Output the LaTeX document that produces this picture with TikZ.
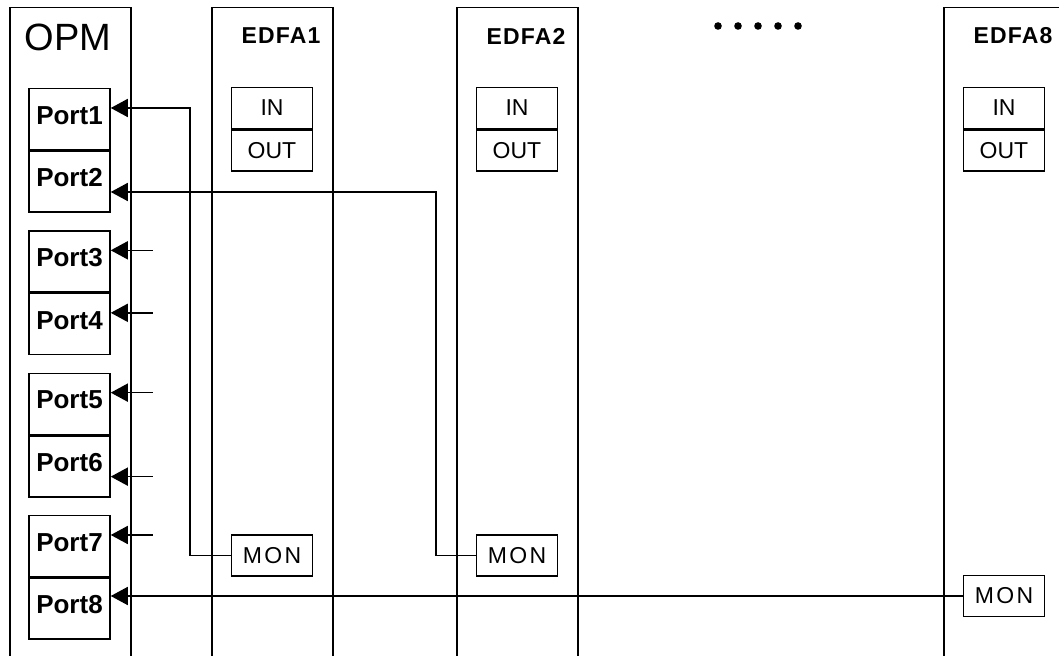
\documentclass[tikz,border=0pt]{standalone}
\usepackage{fontspec}
\setmainfont{Liberation Sans}
\usepackage{tikz}
\usetikzlibrary{arrows.meta,positioning,calc}

\tikzset{
  unitbox/.style={draw, anchor=north west, minimum width=60.5pt, minimum height=332pt, inner sep=0pt},
  portbox/.style={draw, minimum width=40.5pt, minimum height=30.5pt, inner sep=0pt, text depth=4pt, font=\fontsize{13}{15}\selectfont\bfseries},
  iobox/.style={draw, minimum width=40.5pt, minimum height=20.5pt, inner sep=0pt, font=\fontsize{11.5}{13}\selectfont},
  unitlabel/.style={font=\fontsize{11.5}{13}\selectfont\bfseries\addfontfeatures{LetterSpace=5}},
  feed/.style={-{Triangle[length=8.5pt,width=9pt]}},
}

\begin{document}
\begin{tikzpicture}[x=0.5pt, y=-0.5pt, line width=0.75pt]
\useasboundingbox (0,0) rectangle (1059,656);
\node[unitbox] (opm) at (9,7) {};
\node[font=\fontsize{19}{21}\selectfont] (opmlabel) at (68,37) {OPM};
\foreach \k in {0,...,3} {
  \pgfmathsetmacro\pairtop{88+142.33*\k}
  \pgfmathtruncatemacro\a{2*\k+1}
  \pgfmathtruncatemacro\b{2*\k+2}
  \node[portbox, anchor=north] (p\a) at (69.5,\pairtop) {Port\a};
  \node[portbox, below=0pt of p\a] (p\b) {Port\b};
}
\foreach \n/\x/\m in {1/211/555.5, 2/456/555.5, 8/943/596} {
  \node[unitbox] (edfa\n) at (\x,7) {};
  \node[unitlabel] (edfalabel\n) at (\x+70,36) {EDFA\n};
  \node[iobox] (in\n) at (\x+61,108) {IN};
  \node[iobox, below=0pt of in\n] (out\n) {OUT};
  \node[iobox, font=\fontsize{11.5}{13}\selectfont\addfontfeatures{LetterSpace=10}] (mon\n) at (\x+61,\m) {MON};
}
\foreach \i in {0,...,4}
  \fill (718+20*\i,26) circle (1.9pt);
\draw[feed] (mon1.west) -- ++(-41,0) |- ([yshift=-10pt]p1.north east);
\draw[feed] (mon2.west) -- ++(-40,0) |- ([yshift=10.5pt]p2.south east);
\draw[feed] (mon8.west) -- (mon8.west -| p8.east);
\foreach \p in {3,4,5,7} {
  \coordinate (stub\p) at ([xshift=21pt,yshift=-10pt]p\p.north east);
  \draw[feed] (stub\p) -- ([yshift=-10pt]p\p.north east);
}
\coordinate (stub6) at ([xshift=21pt,yshift=10.5pt]p6.south east);
\draw[feed] (stub6) -- ([yshift=10.5pt]p6.south east);
\end{tikzpicture}
\end{document}
